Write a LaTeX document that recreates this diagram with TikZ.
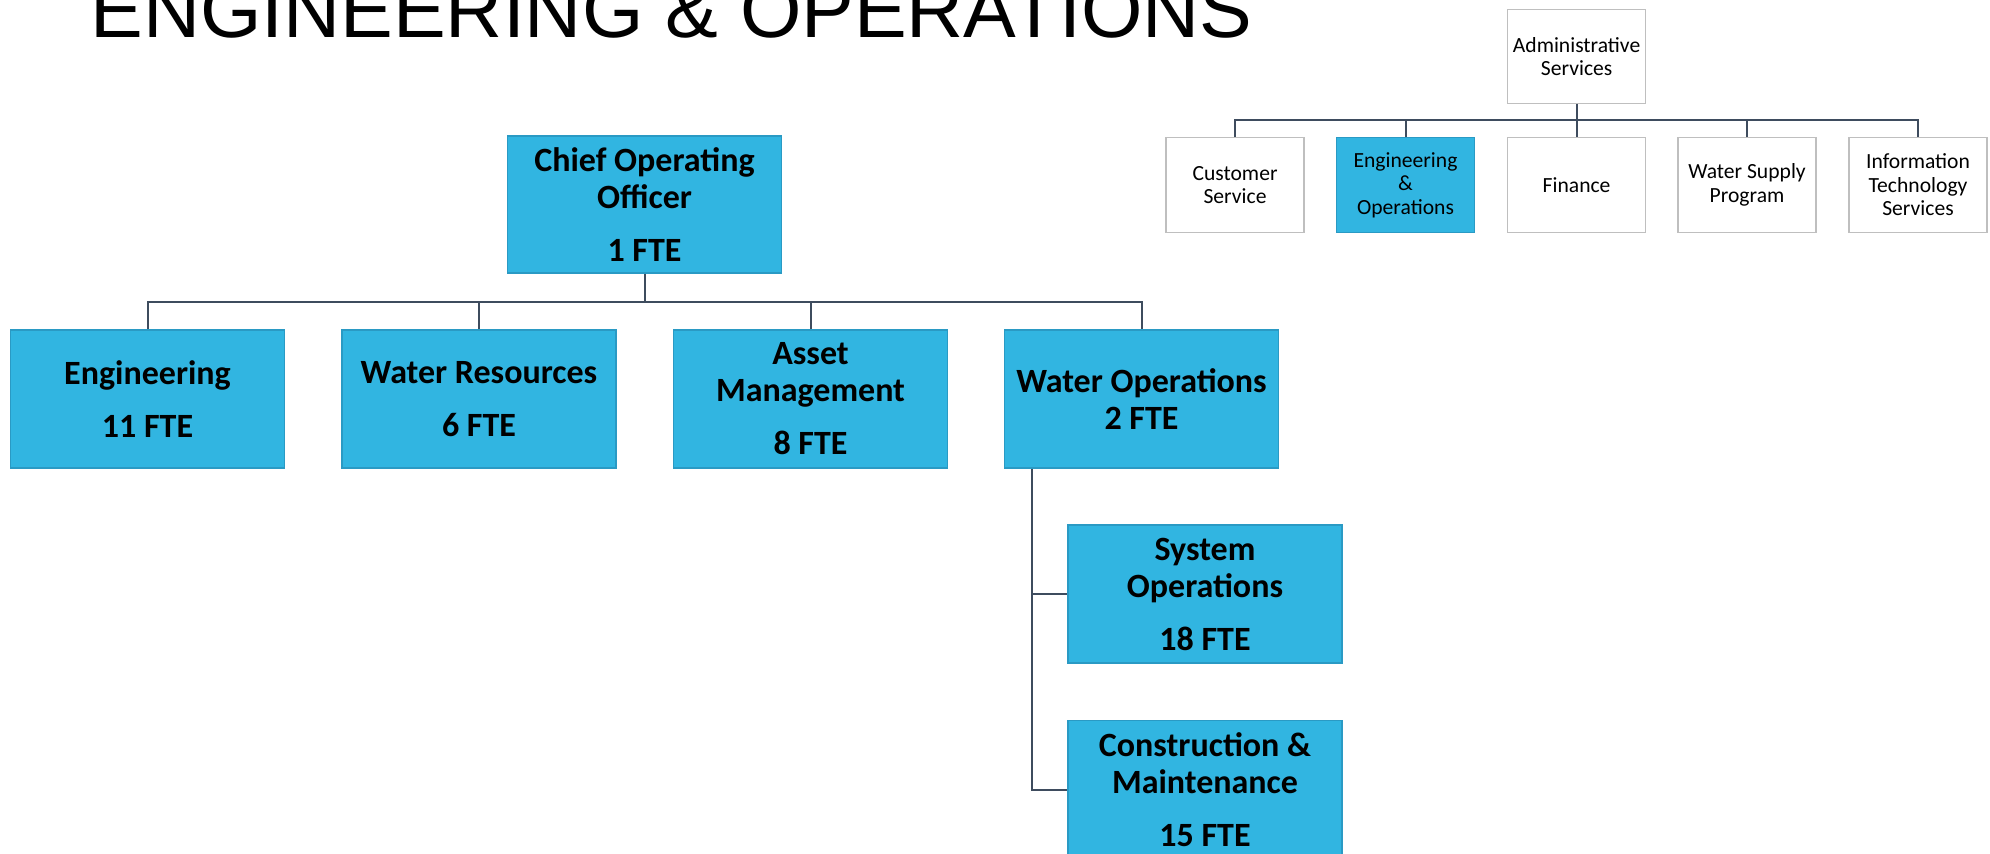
\documentclass[tikz,border=0pt]{standalone}
\usepackage{fontspec}
\setmainfont{Carlito}
\newfontfamily\titlefont{Liberation Sans}
\definecolor{boxblue}{HTML}{31B5E1}
\definecolor{boxedge}{HTML}{2A9AC4}
\definecolor{linecol}{HTML}{3E4C5E}
\definecolor{grayedge}{HTML}{BFBFBF}
\begin{document}
\begin{tikzpicture}[x=0.5pt,y=-0.5pt,
  bigbox/.style={draw=boxedge, line width=0.6pt, fill=boxblue, rectangle, inner sep=0pt,
    minimum width=137pt, minimum height=69pt, align=center,
    font=\fontsize{17}{18.5}\selectfont\bfseries},
  smallbox/.style={draw=grayedge, line width=0.6pt, fill=white, rectangle, inner sep=0pt,
    minimum width=69pt, minimum height=47.3pt, align=center,
    font=\fontsize{10.8}{11.7}\selectfont},
  selbox/.style={smallbox, fill=boxblue, draw=boxedge},
  conn/.style={draw=linecol, line width=1pt}]
\useasboundingbox (0,0) rectangle (1990,854);
\clip (0,0) rectangle (1990,854);
% title
\node[anchor=base west, inner sep=0pt, font=\titlefont\fontsize{39.5}{40}\selectfont] (title) at (90,38) {ENGINEERING \& OPERATIONS};
% main chart
\node[bigbox, minimum height=68.5pt] (ceo) at (644.5,204.5) {Chief Operating\\Officer\\[8pt]1 FTE};
\node[bigbox] (eng) at (147.5,399) {Engineering\\[8pt]11 FTE};
\node[bigbox] (wr) at (479,399) {Water Resources\\[8pt]6 FTE};
\node[bigbox] (am) at (810.5,399) {Asset\\Management\\[8pt]8 FTE};
\node[bigbox] (wo) at (1141.5,399) {Water Operations\\2 FTE};
\node[bigbox] (sys) at (1205,594) {System\\Operations\\[8pt]18 FTE};
\node[bigbox] (cons) at (1205,789.5) {Construction \&\\Maintenance\\[8pt]15 FTE};
\coordinate (bus) at (0,302);
\coordinate (spine) at (1032,0);
\draw[conn] (ceo.south) -- (ceo.south |- bus);
\draw[conn] (eng.north) -- (eng.north |- bus) -- (wo.north |- bus) -- (wo.north);
\draw[conn] (wr.north) -- (wr.north |- bus);
\draw[conn] (am.north) -- (am.north |- bus);
\draw[conn] (spine |- wo.south) -- (spine |- cons.west) -- (cons.west);
\draw[conn] (spine |- sys.west) -- (sys.west);
% small chart
\node[smallbox, minimum height=47pt] (adm) at (1576.6,56.3) {Administrative\\Services};
\node[smallbox] (cs) at (1235,185) {Customer\\Service};
\node[selbox] (eo) at (1405.5,185) {Engineering\\\&\\Operations};
\node[smallbox] (fin) at (1576.6,185) {Finance};
\node[smallbox] (ws) at (1747,185) {Water Supply\\Program};
\node[smallbox] (it) at (1918,185) {Information\\Technology\\Services};
\coordinate (sbus) at (0,120);
\draw[conn] (adm.south) -- (fin.north);
\draw[conn] (cs.north) -- (cs.north |- sbus) -- (it.north |- sbus) -- (it.north);
\draw[conn] (eo.north) -- (eo.north |- sbus);
\draw[conn] (ws.north) -- (ws.north |- sbus);
\end{tikzpicture}
\end{document}
